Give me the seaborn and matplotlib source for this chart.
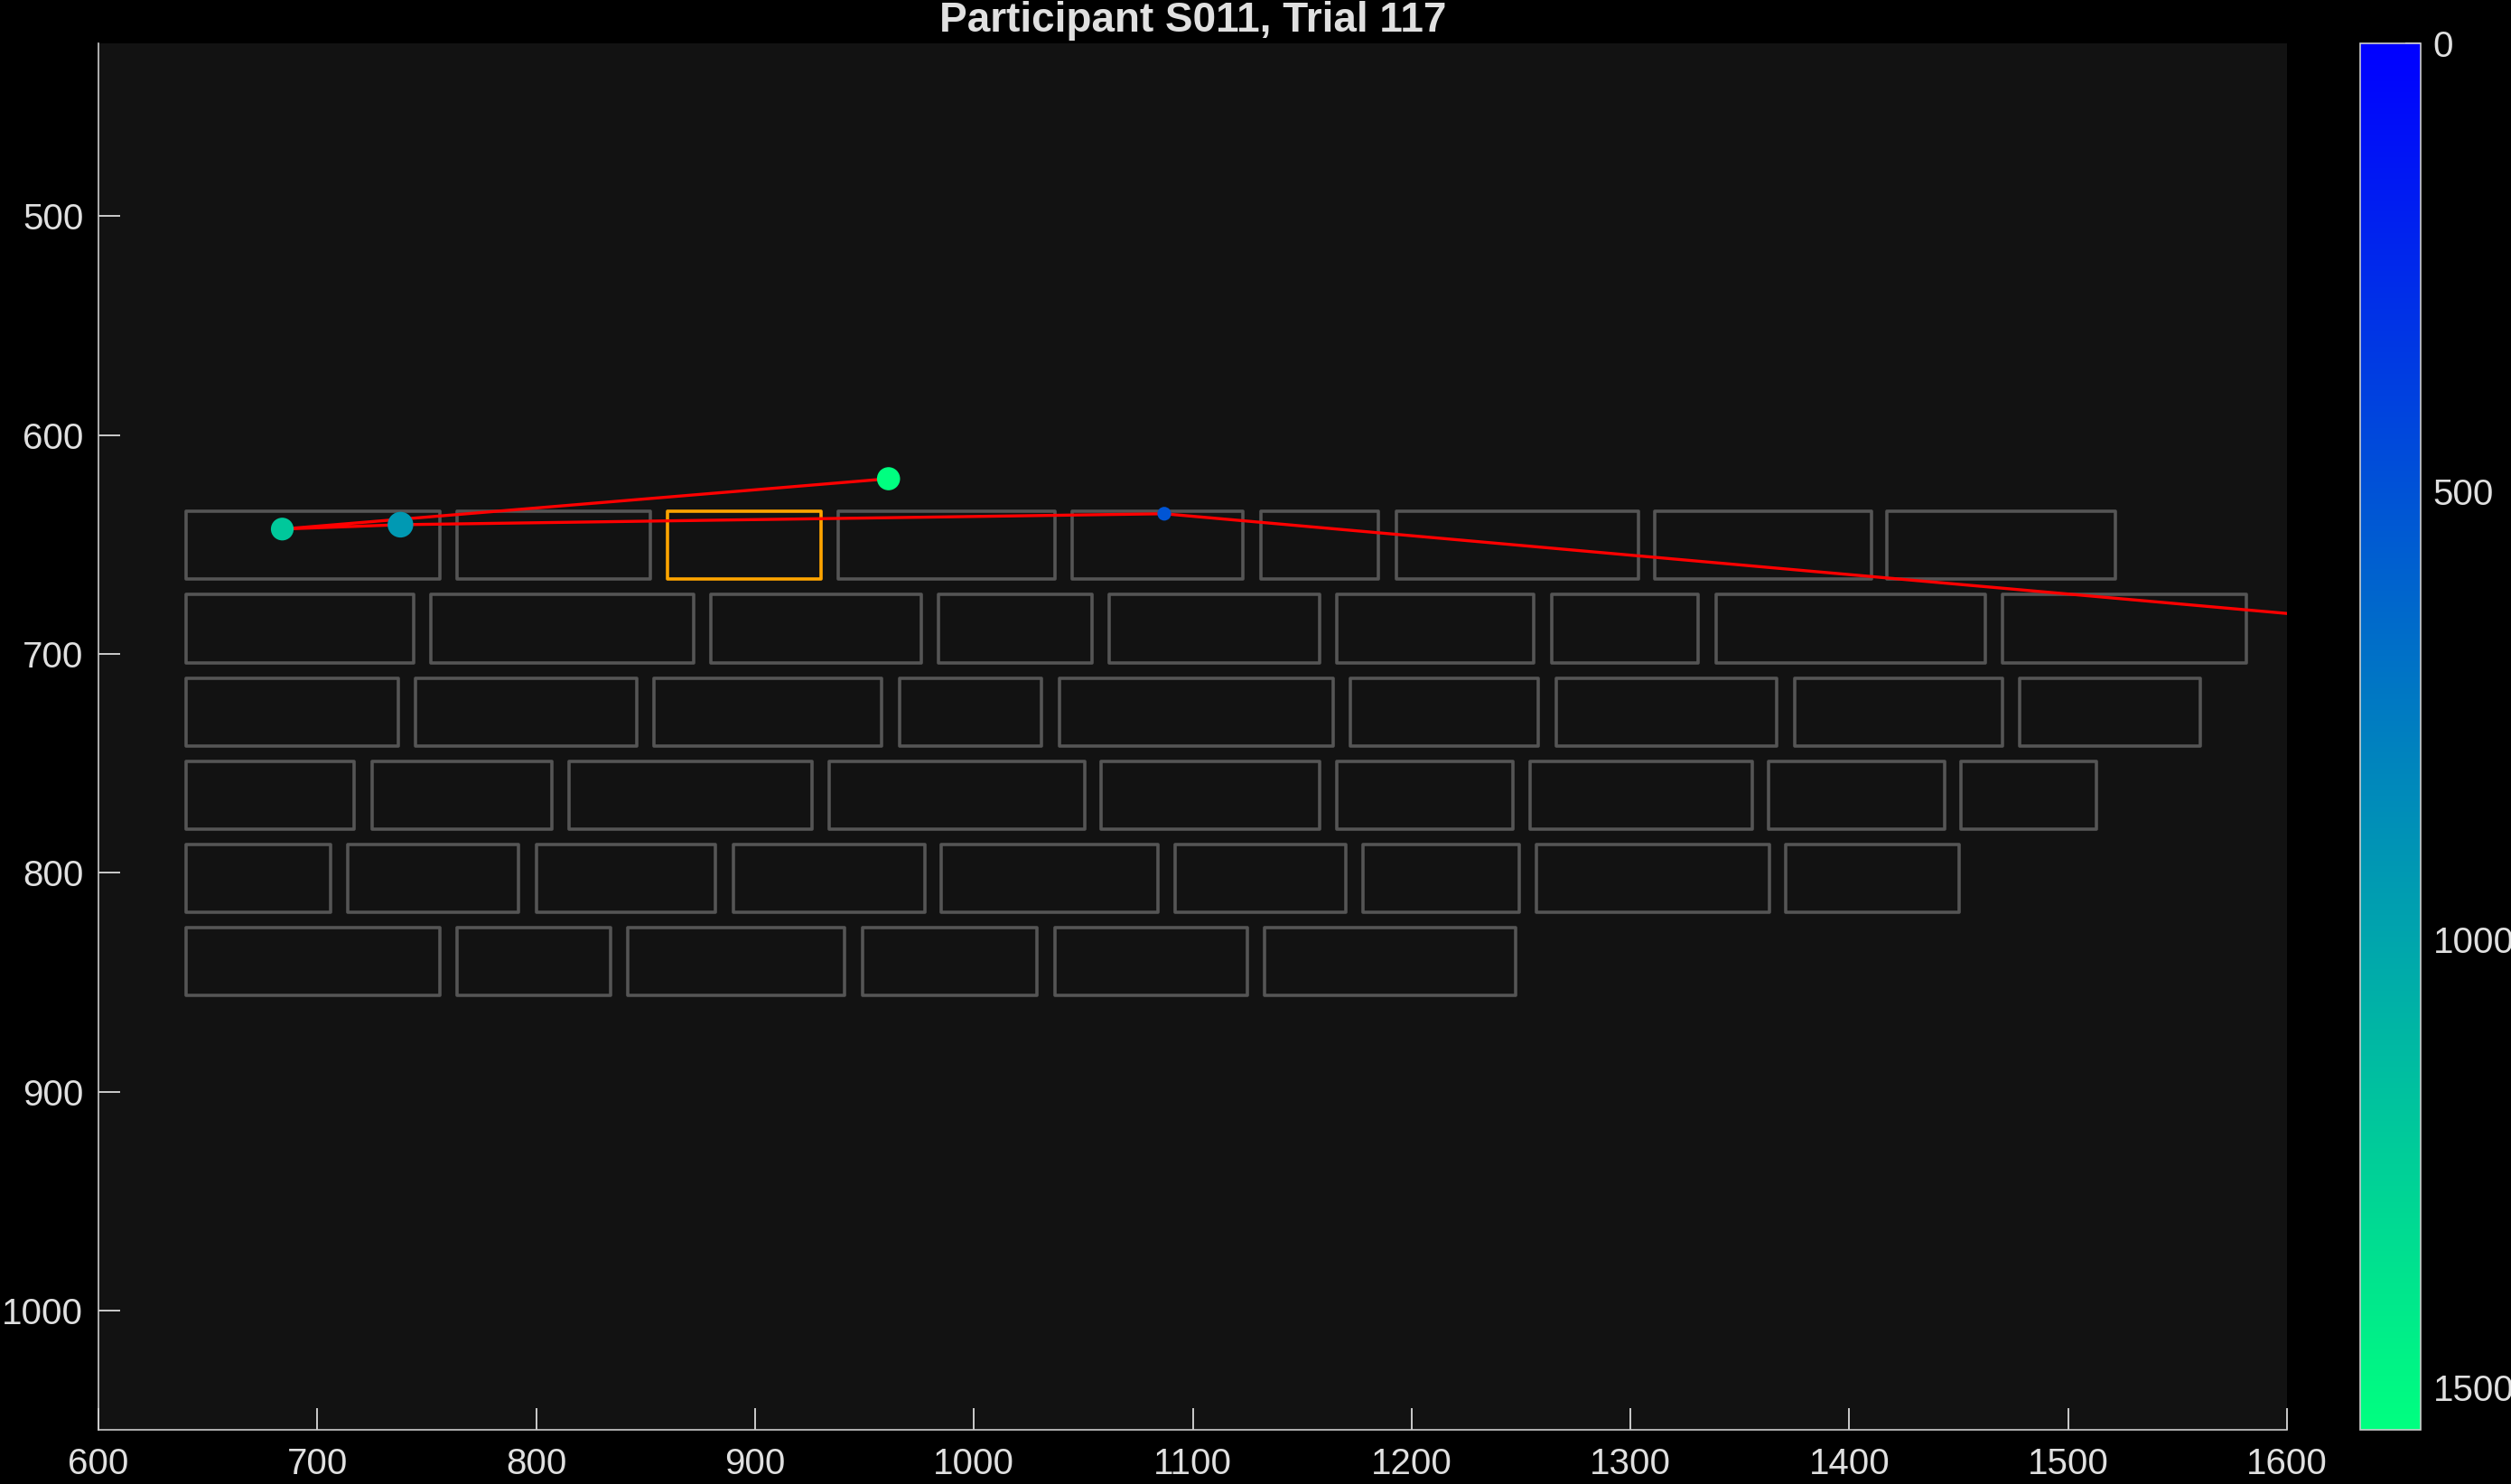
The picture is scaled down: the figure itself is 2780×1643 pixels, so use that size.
import numpy as np
import pandas as pd
import matplotlib
matplotlib.use("Agg")
from matplotlib import pyplot as plt
from matplotlib.patches import Rectangle
from matplotlib.colors import Normalize
from matplotlib.cm import ScalarMappable
import seaborn as sns

title = "Participant S011, Trial 117"

# word boxes on screen, one list of (left, right) per text line
line_top = [635, 673, 711, 749, 787, 825]
line_height = 31
words = [
    [(640, 756), (764, 852), (860, 930), (938, 1037), (1045, 1123), (1131, 1185), (1193, 1303.5), (1311, 1410), (1417, 1521.5)],
    [(640, 744), (752, 872), (880, 976), (984, 1054), (1062, 1158), (1166, 1256), (1264, 1331), (1339, 1462), (1470, 1581.5)],
    [(640, 737), (745, 846), (854, 958), (966, 1031), (1039, 1164), (1172, 1258), (1266, 1367), (1375, 1470), (1478, 1560.5)],
    [(640, 717), (725, 807), (815, 926), (934, 1050.5), (1058, 1158), (1166, 1246.5), (1254, 1355.5), (1363, 1443.5), (1451, 1513)],
    [(640, 706), (714, 792), (800, 882), (890, 977.5), (985, 1084), (1092, 1170), (1178, 1249), (1257, 1363.5), (1371, 1450)],
    [(640, 756), (764, 834), (842, 941), (949, 1029), (1037, 1125), (1133, 1247.5)],
]
target = (0, 2)  # (line, word) of the target word

# fixations (first one lies off screen to the right)
fix_x = [1650, 1087, 738, 684, 961]
fix_y = [686, 636, 641, 643, 620]
fix_t = [0, 515, 928, 1213, 1547]
fix_dur = [200, 100, 380, 295, 305]

fix = pd.DataFrame({"x": fix_x, "y": fix_y, "t": fix_t, "dur": fix_dur})

sns.set_style("dark")
plt.rcParams["font.family"] = ["Liberation Sans", "DejaVu Sans"]
txt = "#e0e0e0"

fig = plt.figure(figsize=(13.9, 8.215), dpi=200, facecolor="black")
ax = fig.add_axes([0.0392, 0.0365, 0.8716, 0.9343])
cax = fig.add_axes([0.9399, 0.0365, 0.0241, 0.9343])
ax.set_facecolor("#121212")

# word boxes
for i, row in enumerate(words):
    for j, (left, right) in enumerate(row):
        col = "orange" if (i, j) == target else "#555555"
        ax.add_patch(Rectangle((left, line_top[i]), right - left, line_height,
                               fill=False, edgecolor=col, lw=1.3,
                               joinstyle="round", zorder=1))

# scanpath
sns.lineplot(data=fix, x="x", y="y", sort=False, estimator=None, color="red",
             lw=1.2, ax=ax, zorder=2)
tnorm = Normalize(min(fix_t), max(fix_t))
sns.scatterplot(data=fix, x="x", y="y", hue="t", palette="winter", hue_norm=tnorm,
                size="dur", sizes=(30, 105), size_norm=(100, 380),
                linewidth=0, legend=False, ax=ax, zorder=3)

ax.set_xlim(600, 1600)
ax.set_ylim(1054.5, 421.1)
ax.set_xticks(np.arange(600, 1601, 100))
ax.set_yticks(np.arange(500, 1001, 100))
ax.set_xlabel("")
ax.set_ylabel("")
ax.grid(False)
for s in ["top", "right"]:
    ax.spines[s].set_visible(False)
for s in ["left", "bottom"]:
    ax.spines[s].set_visible(True)
    ax.spines[s].set_color("#cccccc")
    ax.spines[s].set_linewidth(0.6)
ax.tick_params(direction="in", length=8.5, width=0.7, color="#cccccc",
               labelcolor=txt, labelsize=14.5)
ax.tick_params(axis="x", pad=7, bottom=True)
ax.tick_params(axis="y", pad=6, left=True)
ax.set_title(title, color=txt, fontsize=16.5, fontweight="bold", pad=4.5)

# colour bar for fixation time
cb = fig.colorbar(ScalarMappable(norm=tnorm, cmap="winter"), cax=cax)
cb.set_ticks([0, 500, 1000, 1500])
cax.invert_yaxis()
cb.outline.set_edgecolor("#cccccc")
cb.outline.set_linewidth(0.6)
cax.tick_params(direction="in", length=6, width=0.7, color="#cccccc",
                labelcolor=txt, labelsize=14.5, pad=5)

fig.savefig("out.png", dpi=200, facecolor="black")
